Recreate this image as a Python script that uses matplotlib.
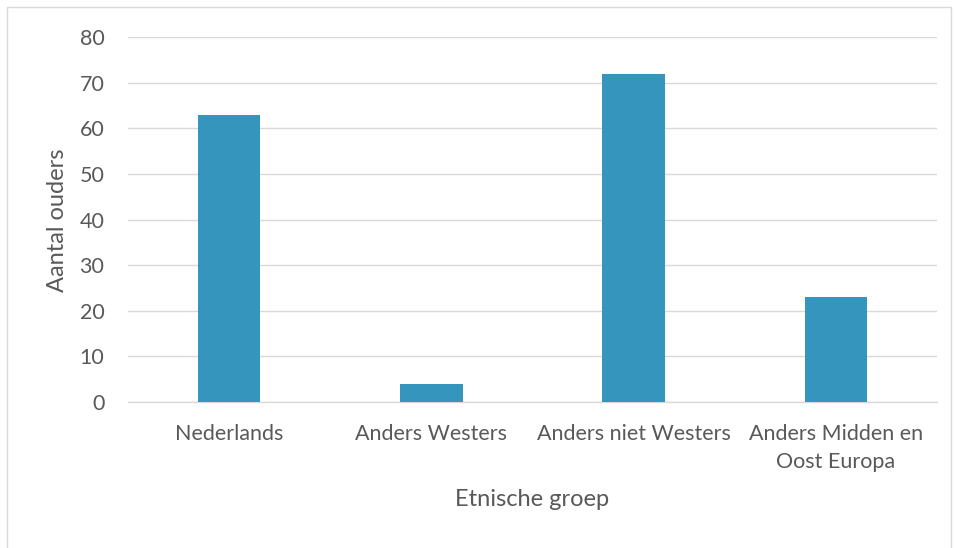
import matplotlib
matplotlib.use("Agg")
import matplotlib.pyplot as plt
from matplotlib.patches import Rectangle

categories = ["Nederlands", "Anders Westers", "Anders niet Westers", "Anders Midden en\nOost Europa"]
values = [63, 4, 72, 23]
yticks = [0, 10, 20, 30, 40, 50, 60, 70, 80]

plt.rcParams['font.family'] = ['Lato', 'DejaVu Sans']
txt = '#595959'
fig = plt.figure(figsize=(9.55, 5.48), dpi=100)
ax = fig.add_axes([128/955, 1-402/548, (937-128)/955, (402-37)/548])

x = list(range(len(categories)))
ax.bar(x, values, width=0.31, color='#3595BC', zorder=3)
ax.set_xlim(-0.5, len(categories)-0.5)
ax.set_ylim(0, 80)
ax.set_yticks(yticks)
ax.set_yticklabels([str(t) for t in yticks])
ax.set_xticks(x)
ax.set_xticklabels(categories, linespacing=1.5)
ax.tick_params(axis='both', length=0, colors=txt, labelsize=15.5)
ax.tick_params(axis='y', pad=17)
ax.tick_params(axis='x', pad=16)
ax.grid(axis='y', color='#D9D9D9', linewidth=1, zorder=0)
for s in ['top', 'right', 'left']:
    ax.spines[s].set_visible(False)
ax.spines['bottom'].set_color('#D9D9D9')
ax.spines['bottom'].set_linewidth(1)

fig.text(58/955, 1-220/548, 'Aantal ouders', rotation=90, ha='center', va='center', color=txt, fontsize=17)
fig.text(532/955, 1-500/548, 'Etnische groep', ha='center', va='center', color=txt, fontsize=17)

fig.patches.append(Rectangle((7/955, -0.05), (951-7)/955, 1.05-7/548, transform=fig.transFigure,
                             fill=False, edgecolor='#D9D9D9', linewidth=1))
fig.savefig('out.png', dpi=100)
